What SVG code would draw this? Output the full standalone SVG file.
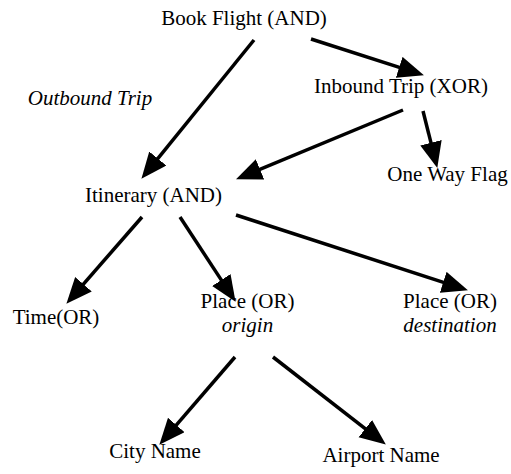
<svg xmlns="http://www.w3.org/2000/svg" width="511" height="474" viewBox="0 0 511 474">
<style>
text{font-family:"Liberation Serif","Times New Roman",serif;font-size:21px;fill:#000;text-anchor:middle}
.it{font-style:italic}
.c line{stroke:#000;stroke-width:3.5;marker-end:url(#ah)}
</style>
<defs>
<marker id="ah" markerUnits="userSpaceOnUse" markerWidth="27" markerHeight="23" refX="10" refY="11" orient="auto">
<path d="M0,0 L26,11 L0,22 Z" fill="#000"/>
</marker>
</defs>
<rect width="511" height="474" fill="#fff"/>
<g class="c" id="connectors">
<line x1="254" y1="40" x2="151.5" y2="166.3"/>
<line x1="311" y1="39" x2="408.7" y2="70.4"/>
<line x1="403" y1="110" x2="250.8" y2="173.2"/>
<line x1="423" y1="111" x2="433.4" y2="152.4"/>
<line x1="142" y1="217" x2="76.9" y2="291.7"/>
<line x1="180" y1="217" x2="226.8" y2="288.4"/>
<line x1="236" y1="215" x2="452.7" y2="285.4"/>
<line x1="235" y1="357" x2="169.8" y2="432.6"/>
<line x1="273" y1="357" x2="373.2" y2="434.8"/>
</g>
<g id="book"><text x="244" y="25">Book Flight (AND)</text></g>
<g id="outbound"><text class="it" x="90" y="105">Outbound Trip</text></g>
<g id="inbound"><text x="401" y="93">Inbound Trip (XOR)</text></g>
<g id="oneway"><text x="447.5" y="181">One Way Flag</text></g>
<g id="itinerary"><text x="153.5" y="202">Itinerary (AND)</text></g>
<g id="time"><text x="56" y="324">Time(OR)</text></g>
<g id="origin"><text x="247.5" y="308">Place (OR)</text><text class="it" x="247.5" y="332">origin</text></g>
<g id="destination"><text x="450" y="308">Place (OR)</text><text class="it" x="450" y="332">destination</text></g>
<g id="city"><text x="155" y="458">City Name</text></g>
<g id="airport"><text x="381" y="462">Airport Name</text></g>
</svg>
